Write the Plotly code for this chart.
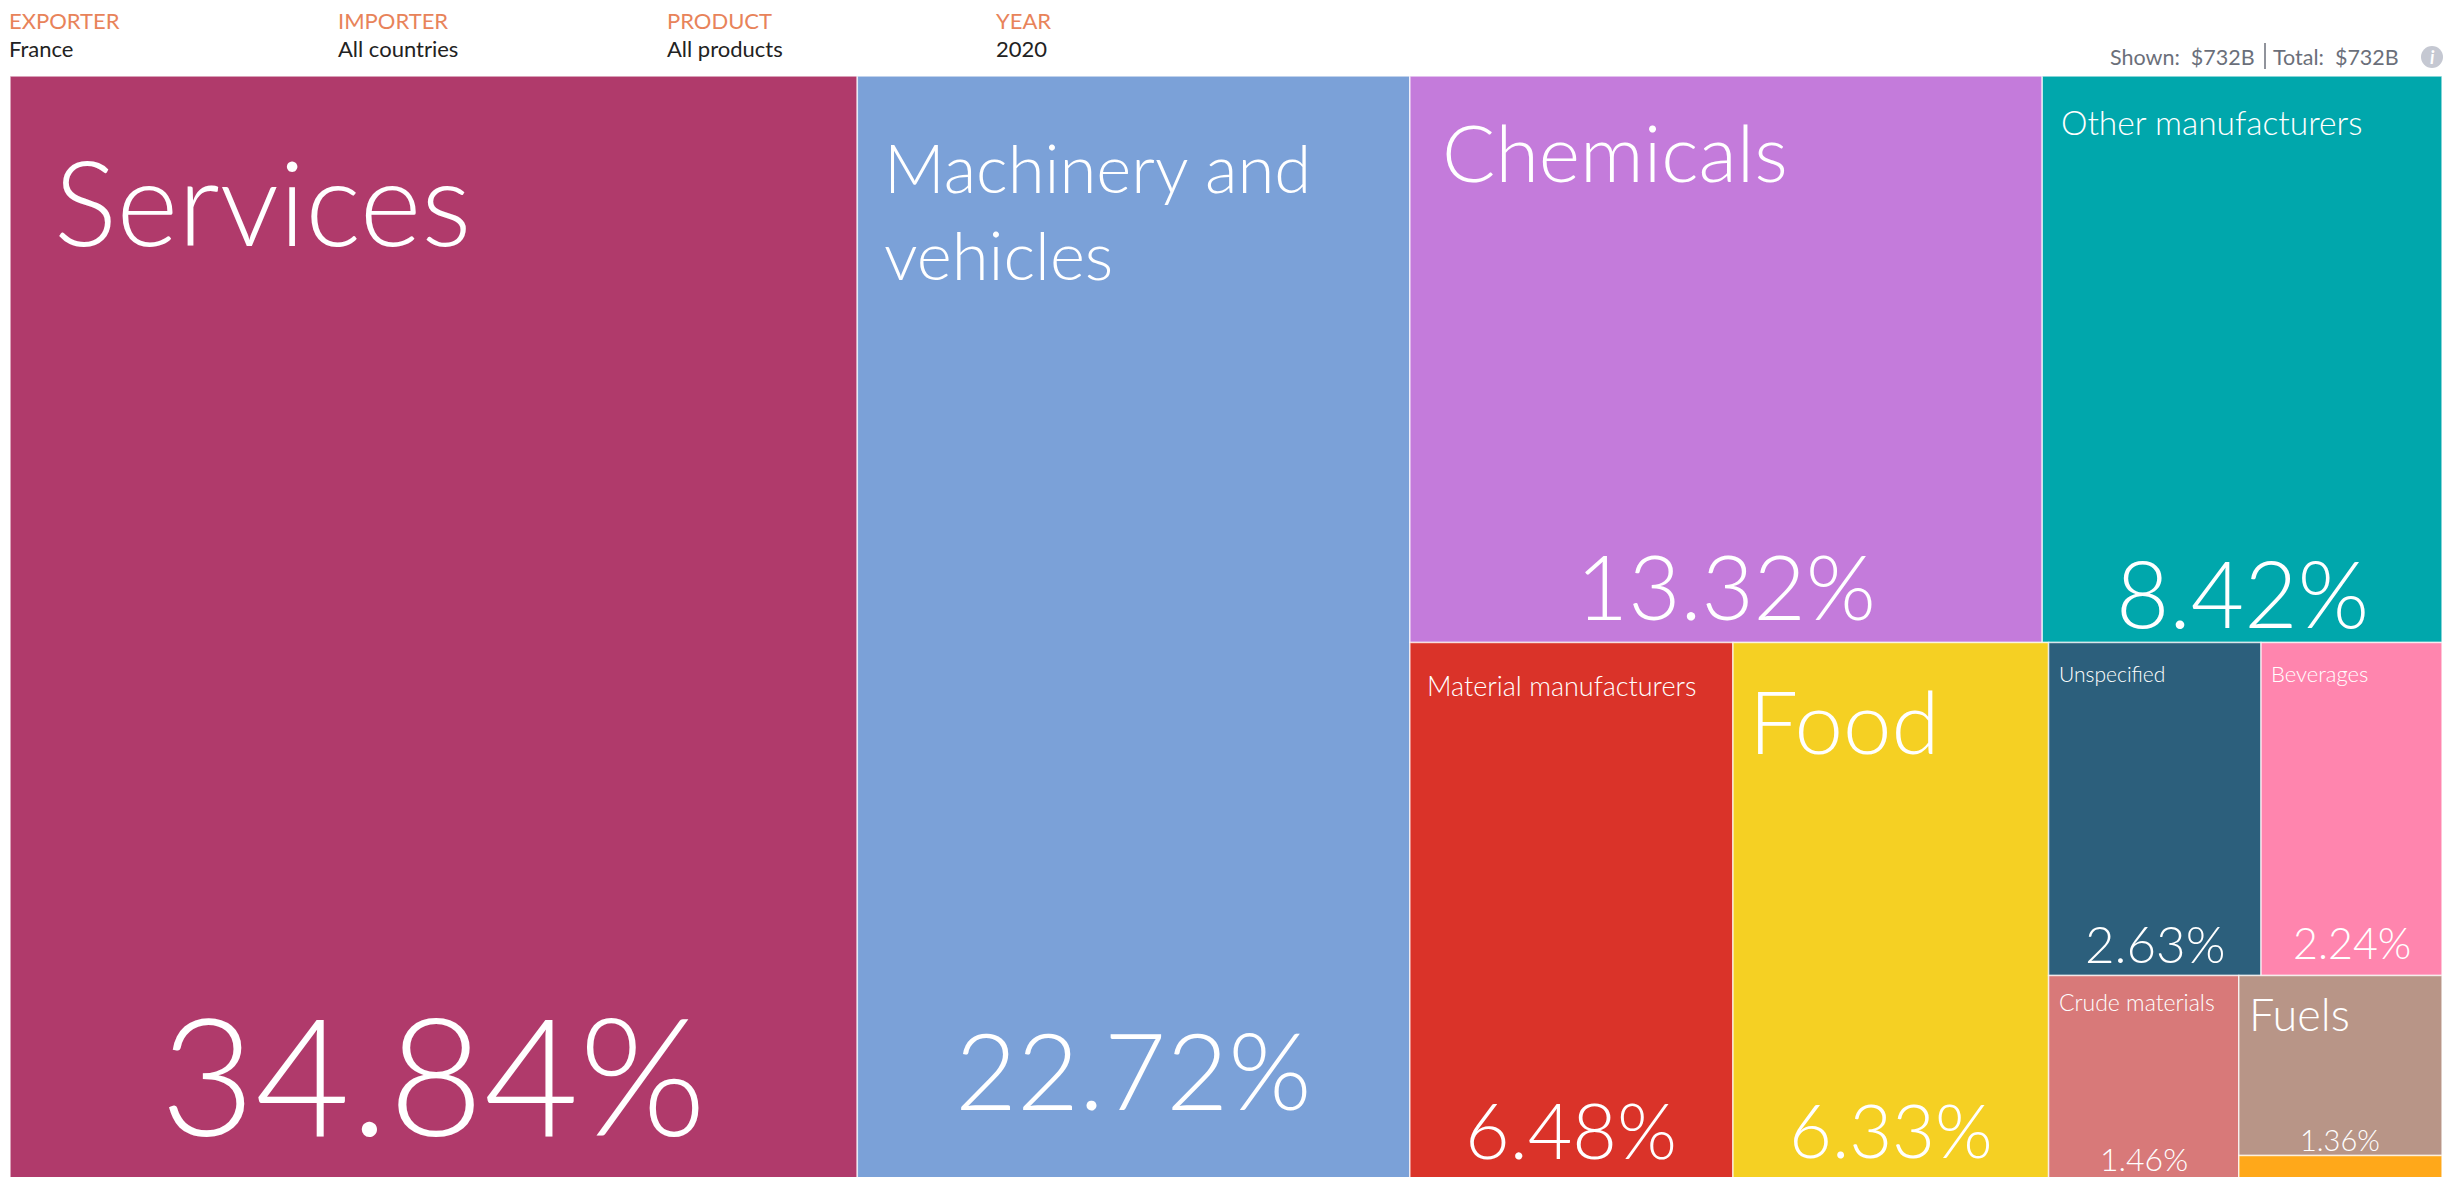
import plotly.graph_objects as go

# ---------- data ----------
labels = ["All", "Services", "Machinery and vehicles", "Rest", "Top", "Bottom",
          "Chemicals", "Other manufacturers", "Material manufacturers", "Food", "Small",
          "Row 1", "Row 2", "Unspecified", "Beverages", "Crude materials", "Fuel group",
          "Fuels", "Other"]
parents = ["", "All", "All", "All", "Rest", "Rest",
           "Top", "Top", "Bottom", "Bottom", "Bottom",
           "Small", "Small", "Row 1", "Row 1", "Row 2", "Row 2",
           "Fuel group", "Fuel group"]
values = [0, 34.84, 22.72, 0, 0, 0,
          13.32, 8.42, 6.48, 6.33, 0,
          0, 0, 2.63, 2.24, 1.46, 0,
          1.36, 0.20]
colors = ["rgba(0,0,0,0)", "#B03A6B", "#7BA1D8", "rgba(0,0,0,0)", "rgba(0,0,0,0)", "rgba(0,0,0,0)",
          "#C47BDB", "#00A7AC", "#DA3329", "#F5D023", "rgba(0,0,0,0)",
          "rgba(0,0,0,0)", "rgba(0,0,0,0)", "#2C5F7C", "#FF85AE", "#D87979", "rgba(0,0,0,0)",
          "#B89587", "#FFA81A"]
header_titles = ["EXPORTER", "IMPORTER", "PRODUCT", "YEAR"]
header_values = ["France", "All countries", "All products", "2020"]
shown_text = "Shown:\u00a0\u00a0$732B"
total_text = "Total:\u00a0\u00a0$732B"

# ---------- style: label -> (name size, name dx, name dy, pct size, pct dy from tile bottom) ----------
STYLE = {
    "Services": (118, 43, 124, 164, 110, "Services"),
    "Machinery and vehicles": (67, 26, 135, 107, 114, "Machinery and<br>vehicles"),
    "Chemicals": (79, 31, 75, 90, 58, "Chemicals"),
    "Other manufacturers": (33.5, 18, 46, 92, 50, "Other manufacturers"),
    "Material manufacturers": (27, 16, 43, 77, 53, "Material manufacturers"),
    "Food": (87, 15, 78, 74, 53, "Food"),
    "Unspecified": (21, 9, 31, 51, 32, "Unspecified"),
    "Beverages": (22, 9, 31, 43, 33, "Beverages"),
    "Crude materials": (23, 9, 26, 32, 24, "Crude materials"),
    "Fuels": (45, 9, 38, 29, 16, "Fuels"),
}

W, H = 2458, 1182
X0, X1, Y0, Y1 = 10, 2442, 76, 1182
FONT = "Lato"


def px(x):
    return x / W


def py(y):
    return 1 - y / H


# Same slice-and-dice nesting as the treemap, to find each tile for its texts
def total(name):
    own = values[labels.index(name)]
    return own + sum(total(c) for c, p in zip(labels, parents) if p == name)


rects = {}


def tile(name, x0, y0, x1, y1, depth):
    rects[name] = (x0, y0, x1, y1)
    kids = [c for c, p in zip(labels, parents) if p == name]
    t = total(name)
    pos = x0 if depth % 2 == 0 else y0
    for k in kids:
        share = total(k) / t
        if depth % 2 == 0:
            nxt = pos + (x1 - x0) * share
            tile(k, pos, y0, nxt, y1, depth + 1)
        else:
            nxt = pos + (y1 - y0) * share
            tile(k, x0, pos, x1, nxt, depth + 1)
        pos = nxt


tile("All", X0, Y0, X1, Y1, 0)

fig = go.Figure(go.Treemap(
    labels=labels, parents=parents, values=values, branchvalues="remainder",
    sort=False, textinfo="none", hoverinfo="label+value",
    marker=dict(colors=colors, depthfade=False,
                pad=dict(t=0, l=0, r=0, b=0),
                line=dict(color="rgba(255,255,255,0.7)",
                          width=[1.5 if v > 0 else 0 for v in values])),
    tiling=dict(packing="slice-dice", pad=0),
    pathbar=dict(visible=False),
    domain=dict(x=[px(X0), px(X1)], y=[py(Y1), py(Y0)]),
))

ann = []


def text(s, x, y, size, color="white", xa="left", ya="middle", weight=300):
    ann.append(dict(text=s, x=px(x), y=py(y), xref="paper", yref="paper", xanchor=xa, yanchor=ya,
                    showarrow=False, align="left", borderpad=0,
                    font=dict(family=FONT, size=size, color=color, weight=weight)))


for name, (ns, dx, dy, ps, pdy, shown) in STYLE.items():
    x0, y0, x1, y1 = rects[name]
    text(shown, x0 + dx, y0 + dy, ns)
    text(f"{values[labels.index(name)]:.2f}%", (x0 + x1) / 2, y1 - pdy, ps, xa="center")

for t, v, x in zip(header_titles, header_values, [8, 337, 666, 995]):
    text(t, x, 20, 22, color="#E8835A", weight=400)
    text(v, x, 49, 22, color="#222222", weight=400)
text(shown_text, 2256, 57, 21.5, color="#6B6F7A", xa="right", weight=400)
text(total_text, 2400, 57, 21.5, color="#6B6F7A", xa="right", weight=400)
text("<i>i</i>", 2432, 57, 18, xa="center", weight=700)

shapes = [
    dict(type="line", xref="paper", yref="paper", x0=px(2265), x1=px(2265), y0=py(43), y1=py(69),
         line=dict(color="#6B6F7A", width=1.5)),
    dict(type="circle", xref="paper", yref="paper", x0=px(2421), x1=px(2443), y0=py(46), y1=py(68),
         fillcolor="#C5C8D2", line=dict(width=0), layer="below"),
]

fig.update_layout(width=W, height=H, margin=dict(l=0, r=0, t=0, b=0),
                  paper_bgcolor="white", annotations=ann, shapes=shapes, showlegend=False)
fig.write_html("out.html", config=dict(displayModeBar=False),
               post_script="document.body.style.margin='0';document.body.style.overflow='hidden';")
